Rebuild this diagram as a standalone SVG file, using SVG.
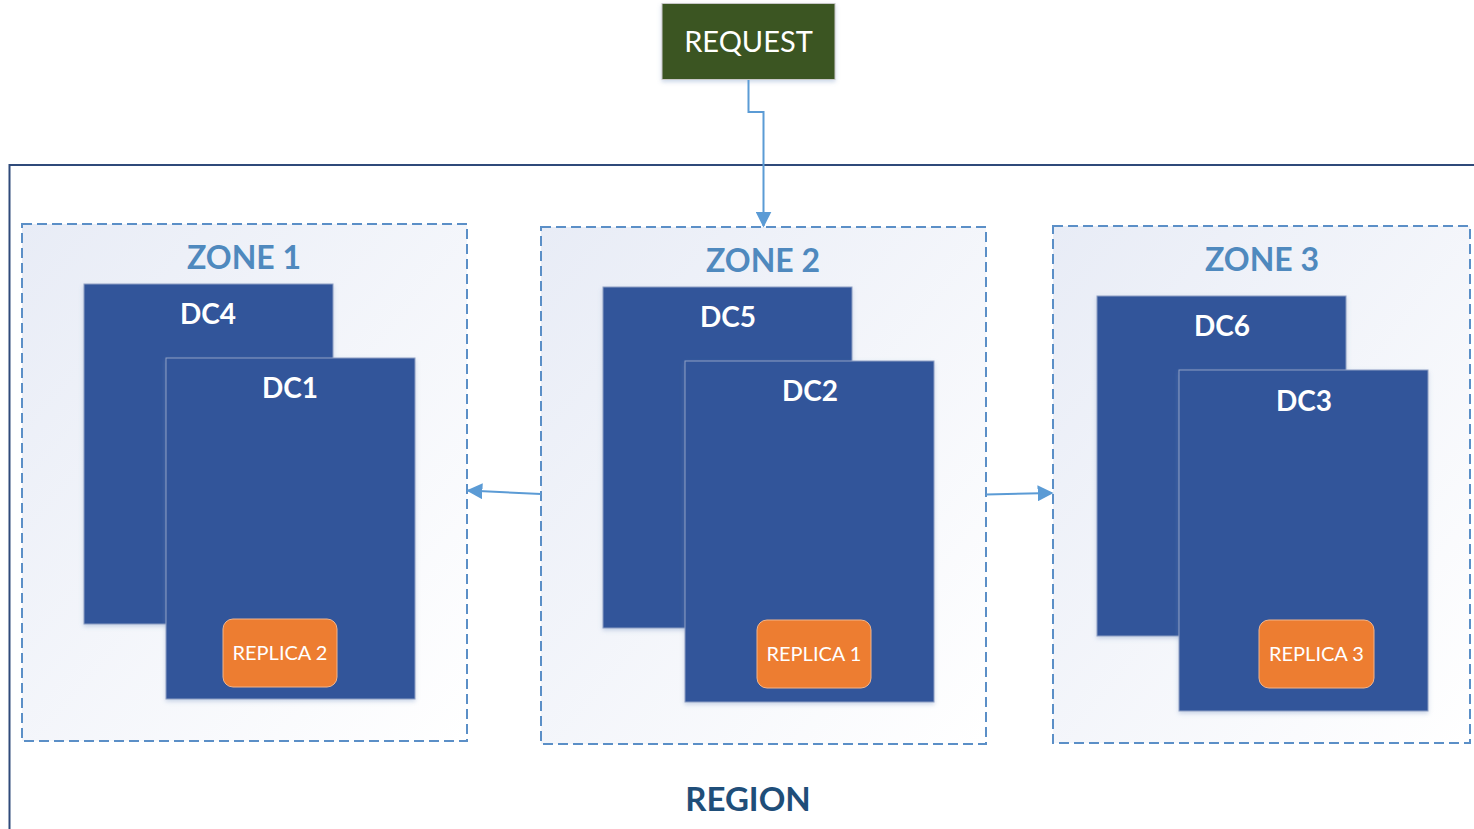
<svg xmlns="http://www.w3.org/2000/svg" width="1474" height="829" viewBox="0 0 1474 829">
<defs>
<linearGradient id="zg" x1="0" y1="0" x2="1" y2="1">
<stop offset="0" stop-color="#e8ecf6"/>
<stop offset="1" stop-color="#ffffff"/>
</linearGradient>
<marker id="ah" viewBox="0 0 10 10" refX="9" refY="5" markerWidth="16" markerHeight="16" markerUnits="userSpaceOnUse" orient="auto">
<path d="M0,0 L10,5 L0,10 z" fill="#5b9bd5"/>
</marker>
<filter id="sh" x="-10%" y="-10%" width="120%" height="120%">
<feDropShadow dx="0" dy="2" stdDeviation="2" flood-color="#6f8fbf" flood-opacity="0.35"/>
</filter>
</defs>
<style>
.zone{fill:url(#zg);stroke:#5b8fc7;stroke-width:2;stroke-dasharray:10 5}
.zt{font-family:Lato,"Liberation Sans",sans-serif;font-weight:bold;font-size:32px;fill:#4f89be;text-anchor:middle}
.dc{fill:#31549a;stroke:#8fa0c4;stroke-width:1;filter:url(#sh)}
.dct{font-family:Lato,"Liberation Sans",sans-serif;font-weight:bold;font-size:28px;fill:#ffffff;text-anchor:middle}
.rep{fill:#ed7d31;stroke:#f3b58a;stroke-width:1}
.rt{font-family:Lato,"Liberation Sans",sans-serif;font-size:20px;fill:#ffffff;text-anchor:middle}
.con{fill:none;stroke:#5b9bd5;stroke-width:2;marker-end:url(#ah)}
</style>
<rect width="1474" height="829" fill="#ffffff"/>
<g id="region">
<path d="M1474,165 L9.5,165 L9.5,829" fill="none" stroke="#2f4a7a" stroke-width="2"/>
<text x="748" y="811" font-family="Lato,'Liberation Sans',sans-serif" font-weight="bold" font-size="33" fill="#1f4e79" text-anchor="middle">REGION</text>
</g>
<g id="request">
<rect x="662" y="3.5" width="173" height="76" fill="#3a5524" stroke="#c8c8c8" stroke-width="1" filter="url(#sh)"/>
<text x="748.5" y="52" font-family="Lato,'Liberation Sans',sans-serif" font-size="29" fill="#ffffff" text-anchor="middle">REQUEST</text>
</g>
<g id="zone1">
<rect class="zone" x="22" y="224" width="445" height="517"/>
<text class="zt" x="244" y="269">ZONE 1</text>
</g>
<g id="dc4">
<rect class="dc" x="84" y="284" width="249" height="340"/>
<text class="dct" x="208" y="324">DC4</text>
</g>
<g id="dc1">
<rect class="dc" x="166" y="358" width="249" height="341"/>
<text class="dct" x="290" y="398">DC1</text>
</g>
<g id="replica2">
<rect class="rep" x="223" y="619" width="114" height="68" rx="10"/>
<text class="rt" x="280" y="660">REPLICA 2</text>
</g>
<g id="zone2">
<rect class="zone" x="541" y="227" width="445" height="517"/>
<text class="zt" x="763" y="272">ZONE 2</text>
</g>
<g id="dc5">
<rect class="dc" x="603" y="287" width="249" height="341"/>
<text class="dct" x="728" y="327">DC5</text>
</g>
<g id="dc2">
<rect class="dc" x="685" y="361" width="249" height="341"/>
<text class="dct" x="810" y="401">DC2</text>
</g>
<g id="replica1">
<rect class="rep" x="757" y="620" width="114" height="68" rx="10"/>
<text class="rt" x="814" y="661">REPLICA 1</text>
</g>
<g id="zone3">
<rect class="zone" x="1053" y="226" width="417" height="517"/>
<text class="zt" x="1262" y="271">ZONE 3</text>
</g>
<g id="dc6">
<rect class="dc" x="1097" y="296" width="249" height="340"/>
<text class="dct" x="1222" y="336">DC6</text>
</g>
<g id="dc3">
<rect class="dc" x="1179" y="370" width="249" height="341"/>
<text class="dct" x="1304" y="411">DC3</text>
</g>
<g id="replica3">
<rect class="rep" x="1259" y="620" width="115" height="68" rx="10"/>
<text class="rt" x="1316.5" y="661">REPLICA 3</text>
</g>
<g id="connectors">
<path class="con" d="M748.5,80 L748.5,112 L763.5,112 L763.5,226"/>
<path class="con" d="M541,494 L468,490.5"/>
<path class="con" d="M986,494.5 L1052,493"/>
</g>
</svg>
